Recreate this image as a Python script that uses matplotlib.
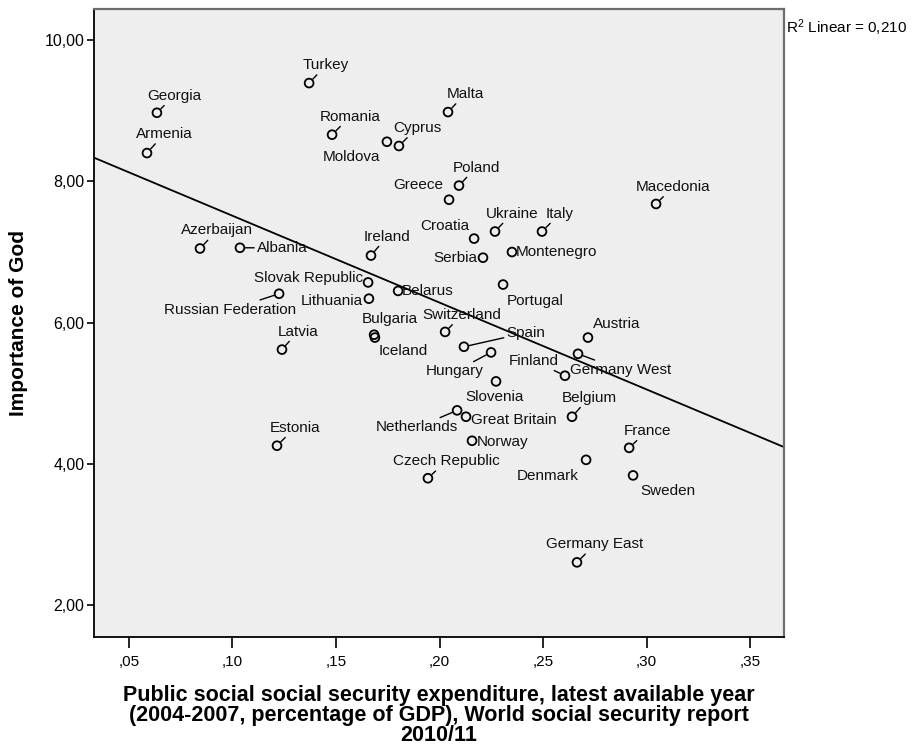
import numpy as np
import matplotlib
matplotlib.use('Agg')
import matplotlib.pyplot as plt
from matplotlib.ticker import FuncFormatter

# data
countries = [
    "Turkey", "Georgia", "Armenia", "Romania", "Moldova", "Cyprus", "Malta",
    "Poland", "Greece", "Croatia", "Ukraine", "Italy", "Macedonia", "Serbia",
    "Montenegro", "Ireland", "Azerbaijan", "Albania", "Slovak Republic",
    "Russian Federation", "Lithuania", "Belarus", "Portugal", "Bulgaria",
    "Iceland", "Switzerland", "Latvia", "Spain", "Hungary", "Slovenia",
    "Austria", "Germany West", "Finland", "Belgium", "Netherlands",
    "Great Britain", "Norway", "France", "Denmark", "Sweden", "Estonia",
    "Czech Republic", "Germany East",
]
expenditure = [
    0.1370, 0.0635, 0.0587, 0.1481, 0.1746, 0.1804, 0.2041,
    0.2094, 0.2046, 0.2167, 0.2268, 0.2495, 0.3046, 0.2210,
    0.2350, 0.1669, 0.0843, 0.1036, 0.1655,
    0.1225, 0.1659, 0.1800, 0.2307, 0.1684,
    0.1688, 0.2027, 0.1239, 0.2118, 0.2249, 0.2273,
    0.2717, 0.2669, 0.2606, 0.2640, 0.2085,
    0.2128, 0.2157, 0.2916, 0.2708, 0.2935, 0.1215,
    0.1944, 0.2664,
]
importance_god = [
    9.39, 8.97, 8.40, 8.66, 8.56, 8.50, 8.98,
    7.94, 7.74, 7.19, 7.29, 7.29, 7.68, 6.92,
    7.00, 6.95, 7.05, 7.06, 6.57,
    6.41, 6.34, 6.45, 6.54, 5.83,
    5.79, 5.87, 5.62, 5.66, 5.58, 5.17,
    5.79, 5.56, 5.25, 4.67, 4.76,
    4.67, 4.33, 4.23, 4.06, 3.84, 4.26,
    3.80, 2.61,
]

# where SPSS put each label: pixel offset from the point (dy downwards) and alignment
label_pos = {
    "Turkey": (17, -18, 'c'), "Georgia": (17, -17, 'c'), "Armenia": (17, -19, 'c'),
    "Romania": (18, -18, 'c'), "Cyprus": (18, -18, 'c'), "Moldova": (-35, 15, 'c'),
    "Malta": (17, -18, 'c'), "Poland": (17, -18, 'c'), "Greece": (-6, -15, 'r'),
    "Croatia": (-5, -13, 'r'), "Ukraine": (17, -18, 'c'), "Italy": (18, -18, 'c'),
    "Macedonia": (17, -17, 'c'), "Serbia": (-6, 0, 'r'), "Montenegro": (4, 0, 'l'),
    "Ireland": (16, -19, 'c'), "Azerbaijan": (17, -18, 'c'), "Albania": (17, 0, 'l'),
    "Slovak Republic": (-5, -4, 'r'), "Russian Federation": (-49, 16, 'c'),
    "Lithuania": (-6, 2, 'r'), "Belarus": (4, 0, 'l'), "Portugal": (4, 16, 'l'),
    "Bulgaria": (16, -16, 'c'), "Iceland": (4, 13, 'l'), "Switzerland": (17, -17, 'c'),
    "Latvia": (16, -18, 'c'), "Spain": (62, -14, 'c'), "Hungary": (-36, 19, 'c'),
    "Slovenia": (-1, 16, 'c'), "Austria": (5, -14, 'l'), "Germany West": (-8, 16, 'l'),
    "Finland": (-31, -15, 'c'), "Belgium": (17, -19, 'c'), "Netherlands": (-40, 17, 'c'),
    "Great Britain": (5, 3, 'l'), "Norway": (5, 1, 'l'), "France": (18, -17, 'c'),
    "Denmark": (-7, 16, 'r'), "Sweden": (35, 16, 'c'), "Estonia": (18, -18, 'c'),
    "Czech Republic": (18, -17, 'c'), "Germany East": (18, -18, 'c'),
}
no_leader = {"Moldova", "Slovenia", "Sweden", "Portugal", "Iceland", "Bulgaria"}
align = {'c': 'center', 'l': 'left', 'r': 'right'}

plt.rcParams['font.family'] = ['Liberation Sans', 'DejaVu Sans']
plt.rcParams['mathtext.default'] = 'regular'

fig = plt.figure(figsize=(9.15, 7.5), dpi=100)
ax = fig.add_axes([94 / 915, 1 - 637 / 750, 690 / 915, 628 / 750])
ax.set_facecolor('#eeeeee')
ax.set_xlim(0.0331, 0.3664)
ax.set_ylim(1.554, 10.438)

x = np.array(expenditure)
y = np.array(importance_god)

# linear fit line
slope, intercept = np.polyfit(x, y, 1)
xs = np.array(ax.get_xlim())
ax.plot(xs, intercept + slope * xs, color='black', lw=1.3, zorder=2)

ax.scatter(x, y, s=40, facecolors='none', edgecolors='black', linewidths=1.3, zorder=3)

for name, xv, yv in zip(countries, x, y):
    dx, dy, ha = label_pos[name]
    arrow = None
    if name not in no_leader and (ha == 'c' or name in ("Albania", "Germany West")):
        arrow = dict(arrowstyle='-', color='black', lw=1.0, shrinkA=0, shrinkB=4)
    ax.annotate(name, (xv, yv), xytext=(dx, -dy), textcoords='offset pixels',
                ha=align[ha], va='center', fontsize=11, color='#111111',
                arrowprops=arrow, zorder=4)

ax.set_xticks([0.05, 0.10, 0.15, 0.20, 0.25, 0.30, 0.35])
ax.set_yticks([2, 4, 6, 8, 10])
ax.xaxis.set_major_formatter(FuncFormatter(lambda v, p: f"{v:.2f}".replace("0.", ",", 1)))
ax.yaxis.set_major_formatter(FuncFormatter(lambda v, p: f"{v:.2f}".replace(".", ",")))
ax.tick_params(axis='x', length=8, width=1.2, pad=5, labelsize=11)
ax.tick_params(axis='y', length=5, width=1.2, pad=2, labelsize=11.5)

for side in ['left', 'bottom']:
    ax.spines[side].set_color('black')
    ax.spines[side].set_linewidth(1.3)
for side in ['top', 'right']:
    ax.spines[side].set_color('#6e6e6e')
    ax.spines[side].set_linewidth(1.6)

ax.set_ylabel("Importance of God", fontsize=15, fontweight='bold')
ax.yaxis.set_label_coords(-0.095, 0.5)
ax.set_xlabel("Public social social security expenditure, latest available year\n"
              "(2004-2007, percentage of GDP), World social security report\n2010/11",
              fontsize=15.5, fontweight='bold', linespacing=0.95)
ax.xaxis.set_label_coords(0.5, -0.076)

fig.text(786 / 915, 1 - 28 / 750, "R$^2$ Linear = 0,210", fontsize=11, va='center', ha='left')

fig.savefig("out.png", dpi=100)
